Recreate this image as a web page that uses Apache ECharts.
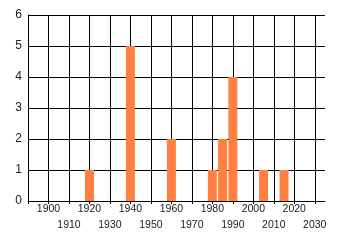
<!DOCTYPE html>
<html><head><meta charset="utf-8">
<script src="https://cdn.jsdelivr.net/npm/echarts@6/dist/echarts.min.js"></script>
<style>html,body{margin:0;padding:0;background:#fff}#c{width:340px;height:245px}</style>
</head><body><div id="c"></div>
<script>
var years = [1920, 1940, 1960, 1980, 1985, 1990, 2005, 2015];
var counts = [1, 5, 2, 1, 2, 4, 1, 1];
var xTickValues = [1890, 1900, 1910, 1920, 1930, 1940, 1950, 1960, 1970, 1980, 1990, 2000, 2010, 2020, 2030];
var xLabelsTop = [1900, 1920, 1940, 1960, 1980, 2000, 2020];
var xLabelsBottom = [1910, 1930, 1950, 1970, 1990, 2010, 2030];
var yTicks = [0, 1, 2, 3, 4, 5, 6];

var labelStyle = {margin: 3, fontSize: 10.5, color: '#1a1a1a', fontFamily: 'Liberation Sans',
  showMinLabel: true, showMaxLabel: true, hideOverlap: false,
  formatter: function (v) { return String(v); }};

var chart = echarts.init(document.getElementById('c'), null, {renderer: 'canvas'});
chart.setOption({
  animation: false,
  backgroundColor: '#fff',
  grid: {left: 28, top: 15, right: 15, bottom: 44, containLabel: false},
  xAxis: [{
    type: 'value', min: 1890, max: 2035, interval: 10, position: 'bottom',
    axisLine: {show: true, lineStyle: {color: '#000', width: 1}},
    axisTick: {show: true, length: 3, customValues: xTickValues, lineStyle: {color: '#000'}},
    splitLine: {show: true, lineStyle: {color: '#000', width: 1}},
    axisLabel: Object.assign({customValues: xLabelsTop}, labelStyle)
  }, {
    type: 'value', min: 1890, max: 2035, interval: 10, position: 'bottom', offset: 16,
    axisLine: {show: false}, axisTick: {show: false}, splitLine: {show: false},
    axisLabel: Object.assign({customValues: xLabelsBottom}, labelStyle)
  }],
  yAxis: {
    type: 'value', min: yTicks[0], max: yTicks[yTicks.length - 1], interval: 1,
    axisLine: {show: true, lineStyle: {color: '#000', width: 1}},
    axisTick: {show: false},
    splitLine: {show: true, lineStyle: {color: '#000', width: 1}},
    axisLabel: {margin: 6, fontSize: 12, color: '#1a1a1a', fontFamily: 'Liberation Sans'}
  },
  series: [{
    type: 'bar', xAxisIndex: 0,
    barWidth: 9,
    itemStyle: {color: '#ff8040'},
    data: years.map(function (y, i) { return [y, counts[i]]; })
  }]
});
</script></body></html>
